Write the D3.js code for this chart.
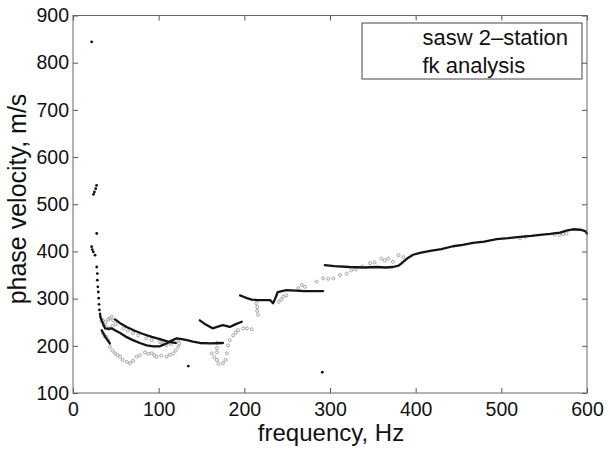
<!DOCTYPE html>
<html><head><meta charset="utf-8">
<script src="https://cdn.jsdelivr.net/npm/d3@7"></script>
<style>
body{margin:0;background:#fff}
text{font-family:"Liberation Sans",Arial,Helvetica,sans-serif;fill:#111}
</style>
</head><body>
<svg id="chart" width="610" height="450"></svg>
<script>
// ---------- data ----------
const xTicks = [0, 100, 200, 300, 400, 500, 600];
const yTicks = [100, 200, 300, 400, 500, 600, 700, 800, 900];
const xLabel = "frequency, Hz";
const yLabel = "phase velocity, m/s";
const legendLabels = ["sasw 2\u2013station", "fk analysis"];

// sasw 2-station: segment 0 = isolated dots, others = continuous branches
const saswFreq = [21.8,27.5,26.5,25,24,27.7,21.8,22.5,23.7,25.7,27.7,28.4,28.4,29,29.5,30,30.4,30.8,291,134.6,
  31.5,32,35,37.4,41,45,50,55,62,70,78,86,94,101.5,105,109,115,121,127,133,140,148,160,175,
  49,55,62.7,72,81.7,92,101.5,113,120,
  33.5,38,43,
  148,155,163,170,175,183,190,197,
  195,199,203,208.6,215,222,230,233.5,236,239,244,249,260,270,280,292,
  294,305,323,340,354.5,365,373.5,380,383.7,390,397,405,417,430,443.5,455,467,480,494.6,508,521.8,535,545,557,568.5,576,583.6,592,598,600];
const saswVel = [844,540,533,526,521,438,410,404,399,392,367,353,339,325,314,301,288,276,144,157,
  268,261,247,237,236,237,232,227,219,212,206,201,199,199,202,205,211,216,214,212,209,206,205,206,
  256,248,240,232,225,219,214,208,206,
  233,218,205,
  254,245,237,241,244,240,246,251,
  307,304,301,298,297,297,297,290,300,314,316,318,317,316,316,316,
  371,369,367,366,367,366,367,370,375,385,393,397,401,405,411,414,418,421,426,428,431,433,435,437,440,444,447,446,443,438];
const saswSeg = [0,0,0,0,0,0,0,0,0,0,0,0,0,0,0,0,0,0,0,0,
  1,1,1,1,1,1,1,1,1,1,1,1,1,1,1,1,1,1,1,1,1,1,1,1,
  2,2,2,2,2,2,2,2,2,
  3,3,3,
  4,4,4,4,4,4,4,4,
  5,5,5,5,5,5,5,5,5,5,5,5,5,5,5,5,
  6,6,6,6,6,6,6,6,6,6,6,6,6,6,6,6,6,6,6,6,6,6,6,6,6,6,6,6,6,6];

// fk analysis: scattered points
const fkFreq = [33,35,38,41,43,45,47,36,39,42,46,50,35,37,39,41,43,46,49,52,55,58,62.7,66.5,70,74,78,84,88,92,95,97.7,103,109,113,117,120,123,124,123,
  59,64,70,76,85.7,92,101.5,105,109,114,
  162,165,168,168,168,168,170,175,178,179.5,181,183,187,190,192.6,198.7,203,208.6,
  214,215,215,216,240,243,245.5,249,267,270.8,263,
  284.5,292,298,304,311.7,319.5,325,330,338,346.7,352,360,364,368,373.5,380,385.6,
  522,528,562,568,572,576];
const fkVel = [252,254,250,256,258,262,254,244,240,236,242,246,226,220,219,212,198,190,184,180,177,170,166,163,168,177,180,186,183,184,180,177,179,177,181,184,190,198,205,212,
  237,232,227,222,216,212,208,205,201,204,
  184,176,170,206,195,186,162,163,170,184,201,212,222,228,233,237,237,235,
  290,282,274,266,293,298,304,307,329,325,322,
  336,343,342,343,350,353,360,362,368,375,377,385,381,385,378,392,388,
  428,431,436,435,437,438];

// ---------- chart ----------
const svg = d3.select("#chart");
const x = d3.scaleLinear().domain([0, 600]).range([73, 587]);
const y = d3.scaleLinear().domain([100, 900]).range([393, 15.5]);

// fk points (gray open circles)
svg.append("g").selectAll("circle").data(fkFreq.map((f,i)=>[f,fkVel[i]])).join("circle")
  .attr("cx", d=>x(d[0])).attr("cy", d=>y(d[1])).attr("r", 1.5)
  .attr("fill", "none").attr("stroke", "#9a9a9a").attr("stroke-width", 0.9);

// sasw points
const sasw = saswFreq.map((f,i)=>({f, v:saswVel[i], s:saswSeg[i]}));
svg.append("g").selectAll("circle").data(sasw.filter(d=>d.s===0)).join("circle")
  .attr("cx", d=>x(d.f)).attr("cy", d=>y(d.v)).attr("r", 1.4).attr("fill", "#111");
const line = d3.line().x(d=>x(d.f)).y(d=>y(d.v)).curve(d3.curveLinear);
const segs = d3.groups(sasw.filter(d=>d.s>0), d=>d.s);
svg.append("g").selectAll("path").data(segs).join("path")
  .attr("d", d=>line(d[1])).attr("fill","none").attr("stroke","#151515")
  .attr("stroke-width", 2.3).attr("stroke-linecap","round").attr("stroke-linejoin","round");

// axes
const gx = svg.append("g").attr("transform", "translate(0,393)")
  .call(d3.axisBottom(x).tickValues(xTicks).tickSizeInner(-5).tickSizeOuter(0).tickPadding(9));
const gy = svg.append("g").attr("transform", "translate(73,0)")
  .call(d3.axisLeft(y).tickValues(yTicks).tickSizeInner(-5).tickSizeOuter(0).tickPadding(4));
const gt = svg.append("g").attr("transform", "translate(0,15.5)")
  .call(d3.axisTop(x).tickValues(xTicks).tickSizeInner(-5).tickSizeOuter(0).tickFormat(""));
const gr = svg.append("g").attr("transform", "translate(587,0)")
  .call(d3.axisRight(y).tickValues(yTicks).tickSizeInner(-5).tickSizeOuter(0).tickFormat(""));
[gx,gy,gt,gr].forEach(g=>{
  g.select(".domain").remove();
  g.selectAll("line").attr("stroke","#555");
  g.selectAll("text").style("font-size","19.5px").attr("fill","#111");
});
svg.append("rect").attr("x",73).attr("y",15.5).attr("width",514).attr("height",377.5)
  .attr("fill","none").attr("stroke","#666").attr("stroke-width",1);

// axis labels
svg.append("text").attr("x",331).attr("y",441).attr("text-anchor","middle")
  .style("font-size","24px").text(xLabel);
svg.append("text").attr("transform","translate(26,199) rotate(-90)").attr("text-anchor","middle")
  .style("font-size","25px").text(yLabel);

// legend
svg.append("rect").attr("x",362).attr("y",23).attr("width",220).attr("height",56)
  .attr("fill","#fff").attr("stroke","#444").attr("stroke-width",1);
svg.append("g").selectAll("text").data(legendLabels).join("text")
  .attr("x",422.5).attr("y",(d,i)=>45+i*27.7).style("font-size","22px").text(d=>d);
</script>
</body></html>
